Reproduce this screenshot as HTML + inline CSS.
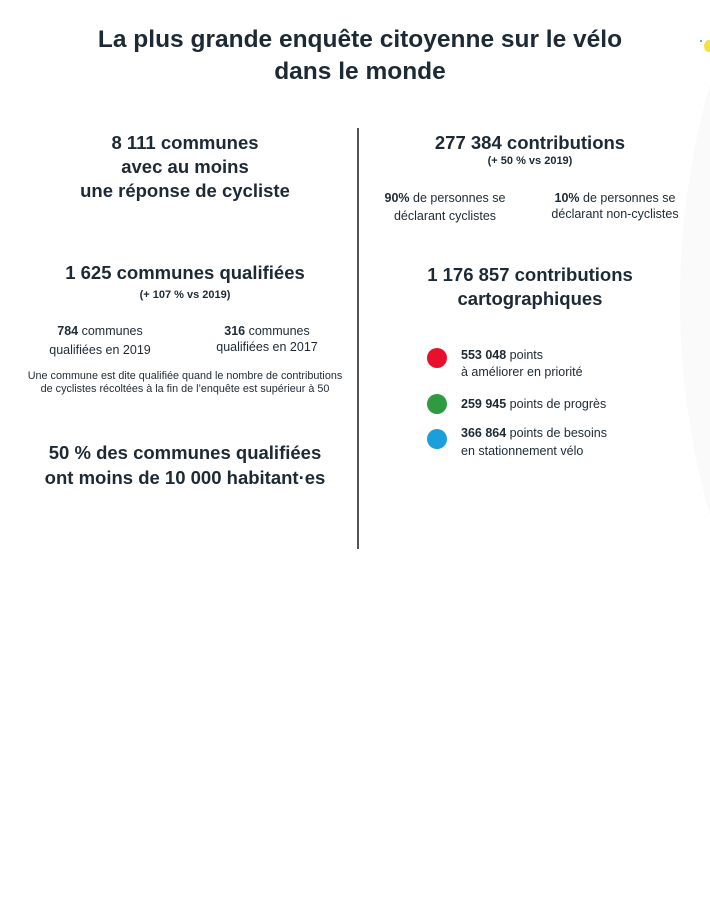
<!DOCTYPE html>
<html><head><meta charset="utf-8"><style>
body{margin:0;width:710px;height:571px;background:#fff;position:relative;overflow:hidden;font-family:"Liberation Sans",sans-serif;color:#1d2a35}
.l{position:absolute;white-space:nowrap;text-align:center;line-height:1}
.t{font-size:24.5px;font-weight:bold}
.h{font-size:18.5px;font-weight:bold}
.s{font-size:11px;font-weight:bold}
.n{font-size:12.5px}
.x{font-size:10.8px}
.c{position:absolute;width:20px;height:20px;border-radius:50%}
</style></head><body>
<div style="position:absolute;left:680px;top:-300px;width:900px;height:1200px;border-radius:50%;background:#fafafb"></div>
<div style="position:absolute;left:704px;top:40px;width:9px;height:12px;border-radius:50%;background:#f3e33a"></div>
<div style="position:absolute;left:700px;top:40px;width:2px;height:2px;border-radius:50%;background:#2a5;"></div>

<div class="l t" style="left:0;width:720px;top:28px">La plus grande enquête citoyenne sur le vélo</div>
<div class="l t" style="left:0;width:720px;top:60px">dans le monde</div>

<div style="position:absolute;left:357px;top:128px;width:1.5px;height:421px;background:#555"></div>

<div class="l h" style="left:0;width:370px;top:134px">8 111 communes</div>
<div class="l h" style="left:0;width:370px;top:158px">avec au moins</div>
<div class="l h" style="left:0;width:370px;top:182px">une réponse de cycliste</div>

<div class="l h" style="left:0;width:370px;top:264px">1 625 communes qualifiées</div>
<div class="l s" style="left:0;width:370px;top:290px">(+ 107 % vs 2019)</div>

<div class="l n" style="left:0;width:200px;top:325px"><b>784</b> communes</div>
<div class="l n" style="left:0;width:200px;top:344px">qualifiées en 2019</div>
<div class="l n" style="left:167px;width:200px;top:325px"><b>316</b> communes</div>
<div class="l n" style="left:167px;width:200px;top:341px">qualifiées en 2017</div>
<div class="l x" style="left:0;width:370px;top:371px">Une commune est dite qualifiée quand le nombre de contributions</div>
<div class="l x" style="left:0;width:370px;top:384px">de cyclistes récoltées à la fin de l’enquête est supérieur à 50</div>

<div class="l h" style="left:0;width:370px;top:444px">50 % des communes qualifiées</div>
<div class="l h" style="left:0;width:370px;top:469px">ont moins de 10 000 habitant·es</div>

<div class="l h" style="left:360px;width:340px;top:134px">277 384 contributions</div>
<div class="l s" style="left:360px;width:340px;top:156px">(+ 50 % vs 2019)</div>
<div class="l n" style="left:345px;width:200px;top:192px"><b>90%</b> de personnes se</div>
<div class="l n" style="left:345px;width:200px;top:210px">déclarant cyclistes</div>
<div class="l n" style="left:515px;width:200px;top:192px"><b>10%</b> de personnes se</div>
<div class="l n" style="left:515px;width:200px;top:208px">déclarant non-cyclistes</div>

<div class="l h" style="left:360px;width:340px;top:266px">1 176 857 contributions</div>
<div class="l h" style="left:360px;width:340px;top:290px">cartographiques</div>

<div class="c" style="left:427px;top:348px;background:#e8112d"></div>
<div class="c" style="left:427px;top:394px;background:#2f9a41"></div>
<div class="c" style="left:427px;top:429px;background:#1a9fdc"></div>
<div class="l n" style="left:461px;top:349px;text-align:left"><b>553 048</b> points</div>
<div class="l n" style="left:461px;top:366px;text-align:left">à améliorer en priorité</div>
<div class="l n" style="left:461px;top:398px;text-align:left"><b>259 945</b> points de progrès</div>
<div class="l n" style="left:461px;top:427px;text-align:left"><b>366 864</b> points de besoins</div>
<div class="l n" style="left:461px;top:445px;text-align:left">en stationnement vélo</div>
</body></html>
